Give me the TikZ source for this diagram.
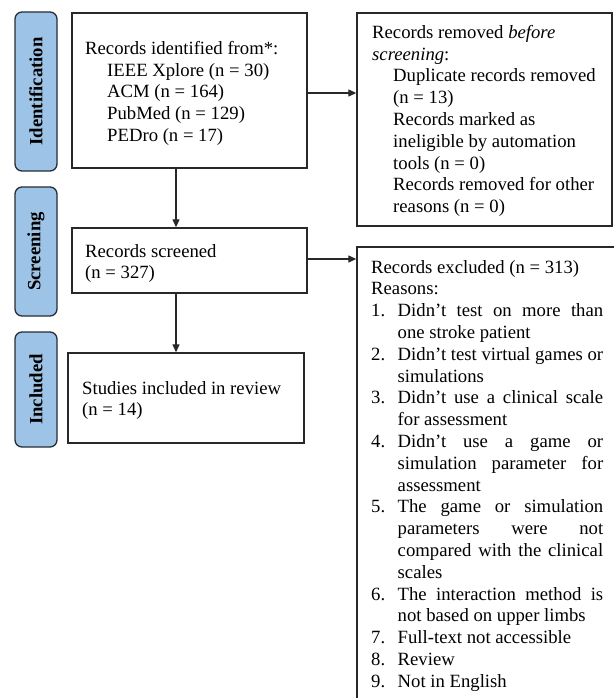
\documentclass[tikz,border=0pt]{standalone}
\usepackage{fontspec}
\setmainfont{Liberation Serif}
\usetikzlibrary{arrows.meta,calc}

\definecolor{stageblue}{RGB}{157,195,230}
\definecolor{stageedge}{RGB}{38,46,56}
\definecolor{boxedge}{RGB}{40,40,40}

\newcommand\flowsize{\fontsize{18.7pt}{21.8pt}\selectfont}
% one numbered reason with a hanging indent
\newcommand\reasonitem[2]{\par\hangindent=26.5pt\hangafter=1\noindent\makebox[26.5pt][l]{#1}#2}

\tikzset{
  stage/.style={draw=stageedge, line width=1.3pt, fill=stageblue, rounded corners=7pt,
    inner sep=0pt, font=\flowsize\bfseries, text=black},
  stepbox/.style={draw=boxedge, line width=1.4pt, inner sep=0pt},
  txt/.style={anchor=north west, inner sep=0pt, align=left, font=\flowsize},
  flow/.style={draw=boxedge, line width=1.3pt, -{Triangle[length=8pt,width=7pt]}}
}

\begin{document}
\begin{tikzpicture}[x=1pt,y=-1pt]
\path[use as bounding box, fill=white] (0,0) rectangle (613,698);

% stage labels on the left
\node[stage, rotate=90, minimum width=159pt, minimum height=42pt] (idlab) at (36,91.5) {Identification};
\node[stage, rotate=90, minimum width=129pt, minimum height=42pt] (scrlab) at (36,251.5) {Screening};
\node[stage, rotate=90, minimum width=115pt, minimum height=42pt] (inclab) at (36,389.5) {Included};

% flow boxes
\node[stepbox, minimum width=235pt, minimum height=155pt] (ident) at (189.5,90.5) {};
\node[stepbox, minimum width=255pt, minimum height=213pt] (removed) at (484.5,119.5) {};
\node[stepbox, minimum width=235pt, minimum height=65pt] (screened) at (189.5,260.5) {};
\node[stepbox, minimum width=236pt, minimum height=90pt] (included) at (186,398) {};
\node[stepbox, minimum width=259pt, minimum height=463pt] (excluded) at (486.5,478.5) {};

% box texts
\node[txt] (identtxt) at (85,41) {Records identified from*:\\
  \hspace*{22pt}IEEE Xplore (n = 30)\\
  \hspace*{22pt}ACM (n = 164)\\
  \hspace*{22pt}PubMed (n = 129)\\
  \hspace*{22pt}PEDro (n = 17)};

\node[txt] (removedtxt) at (372,25) {Records removed \textit{before}\\
  \textit{screening}:\\
  \hspace*{21pt}Duplicate records removed\\
  \hspace*{21pt}(n = 13)\\
  \hspace*{21pt}Records marked as\\
  \hspace*{21pt}ineligible by automation\\
  \hspace*{21pt}tools (n = 0)\\
  \hspace*{21pt}Records removed for other\\
  \hspace*{21pt}reasons (n = 0)};

\node[txt] (screenedtxt) at (85,244) {Records screened\\(n = 327)};

\node[txt] (includedtxt) at (82,381) {Studies included in review\\(n = 14)};

\node[txt, text width=232pt, align=justify] (excludedtxt) at (371,260) {%
  \parindent=0pt\tolerance=10000\hbadness=10000
  Records excluded (n = 313)\par
  Reasons:
  \reasonitem{1.}{Didn’t test on more than\linebreak one stroke patient}
  \reasonitem{2.}{Didn’t test virtual games or\linebreak simulations}
  \reasonitem{3.}{Didn’t use a clinical scale\linebreak for assessment}
  \reasonitem{4.}{Didn’t use a game or\linebreak simulation parameter for\linebreak assessment}
  \reasonitem{5.}{The game or simulation\linebreak parameters were not\linebreak compared with the clinical\linebreak scales}
  \reasonitem{6.}{The interaction method is\linebreak not based on upper limbs}
  \reasonitem{7.}{Full-text not accessible}
  \reasonitem{8.}{Review}
  \reasonitem{9.}{Not in English}\par};

% connectors
\draw[flow] ([yshift=-2.5pt]ident.east) -- ([yshift=-2.5pt]ident.east -| removed.west);
\draw[flow] ([yshift=1.5pt]screened.east) -- ([yshift=1.5pt]screened.east -| excluded.west);
\draw[flow] ([xshift=-13.5pt]ident.south) -- ([xshift=-13.5pt]ident.south |- screened.north);
\draw[flow] ([xshift=-13.5pt]screened.south) -- ([xshift=-13.5pt]screened.south |- included.north);
\end{tikzpicture}
\end{document}
